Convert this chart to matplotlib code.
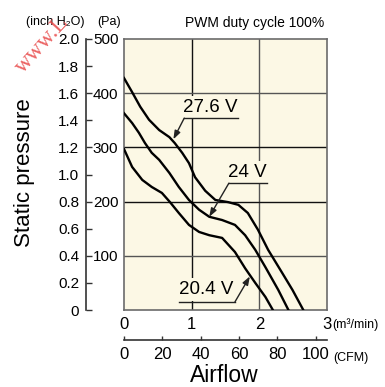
import matplotlib.pyplot as plt

# Werte (Q in m3/min, p in Pa)
q_276 = [0, 0.12, 0.24, 0.37, 0.52, 0.67, 0.75, 0.86, 0.96, 1.05, 1.20, 1.35, 1.54, 1.69, 1.83, 1.98, 2.13, 2.34, 2.49, 2.65]
p_276 = [428, 402, 375, 351, 332, 319, 308, 290, 271, 245, 220, 203, 199, 194, 179, 148, 111, 68, 37, 0]

q_240 = [0, 0.12, 0.22, 0.31, 0.41, 0.52, 0.67, 0.81, 0.96, 1.11, 1.26, 1.45, 1.64, 1.79, 1.94, 2.09, 2.28, 2.43]
p_240 = [363, 345, 327, 308, 290, 277, 253, 227, 203, 185, 172, 166, 157, 138, 111, 79, 37, 0]

q_204 = [0, 0.12, 0.27, 0.41, 0.56, 0.68, 0.81, 0.96, 1.11, 1.26, 1.45, 1.64, 1.79, 1.94, 2.09, 2.20]
p_204 = [297, 264, 240, 227, 216, 199, 179, 157, 144, 138, 133, 107, 77, 50, 24, 0]

pa_ticks = [100, 200, 300, 400, 500]
inch_ticks = [0, 0.2, 0.4, 0.6, 0.8, 1.0, 1.2, 1.4, 1.6, 1.8, 2.0]
m3_ticks = [0, 1, 2, 3]
cfm_ticks = [0, 20, 40, 60, 80, 100]

sans = ["Liberation Sans", "DejaVu Sans"]
bg = "#fcf8e5"

fig = plt.figure(figsize=(3.85, 3.87), dpi=100)
ax = fig.add_axes([124 / 385, 1 - 310 / 387, 203 / 385, 271 / 387])
ax.set_facecolor(bg)
ax.set_xlim(0, 3)
ax.set_ylim(0, 500)

# gitter
for x, c in [(1, "#111111"), (2, "#555555")]:
    ax.axvline(x, color=c, lw=1.0, zorder=1)
for y, c in [(100, "#555555"), (200, "#111111"), (300, "#111111"), (400, "#555555")]:
    ax.axhline(y, color=c, lw=1.0, zorder=1)

for s in ax.spines.values():
    s.set_color("#6b6b6b")
    s.set_linewidth(1.2)

# kennlinien
for q, p in [(q_276, p_276), (q_240, p_240), (q_204, p_204)]:
    ax.plot(q, p, color="black", lw=1.7, zorder=3, solid_joinstyle="round")

# achsen
ax.set_yticks(pa_ticks)
ax.set_yticklabels([str(v) for v in pa_ticks], family=sans, fontsize=11)
ax.set_xticks(m3_ticks)
ax.set_xticklabels([str(v) for v in m3_ticks], family=sans, fontsize=12)
ax.tick_params(axis="y", length=0, pad=4)
ax.tick_params(axis="x", length=0, pad=5)

sec_y = ax.secondary_yaxis(-0.187, functions=(lambda p: p / 250, lambda i: i * 250))
sec_y.set_yticks(inch_ticks)
sec_y.set_yticklabels(["0" if v == 0 else f"{v:.1f}" for v in inch_ticks], family=sans, fontsize=11)
sec_y.tick_params(direction="in", length=4, width=1, pad=5, color="#333333")
sec_y.spines["left"].set_linewidth(1.2)
sec_y.spines["left"].set_color("#333333")

sec_x = ax.secondary_xaxis(-0.111, functions=(lambda q: q * 35.315, lambda c: c / 35.315))
sec_x.set_xticks(cfm_ticks)
sec_x.set_xticklabels([str(v) for v in cfm_ticks], family=sans, fontsize=12)
sec_x.tick_params(direction="in", length=3, width=1, pad=5, color="#333333")
sec_x.spines["bottom"].set_linewidth(1.2)
sec_x.spines["bottom"].set_color("#333333")

# beschriftungen der kurven mit unterstrich und pfeil
labels = [
    ("27.6 V", 1.28, 358, 0.89, 1.69, 354, (0.73, 315)),
    ("24 V", 1.82, 238, 1.55, 2.12, 234, (1.26, 172)),
    ("20.4 V", 1.21, 22, 0.81, 1.64, 15, (1.86, 62)),
]
for txt, tx, ty, ux0, ux1, uy, tip in labels:
    ax.text(tx, ty, txt, ha="center", va="bottom", fontsize=13.5, family=sans, zorder=4,
            bbox=dict(facecolor=bg, edgecolor="none", pad=2))
    ax.plot([ux0, ux1], [uy, uy], color="#222222", lw=1.0, zorder=5)
    start = (ux0, uy) if tip[0] < ux0 + 0.3 else (ux1, uy)
    ax.annotate("", xy=tip, xytext=start, zorder=5,
                arrowprops=dict(arrowstyle="-|>,head_length=0.5,head_width=0.18", color="#222222", lw=1.0,
                                shrinkA=0, shrinkB=0))

fig.text(25 / 385, 1 - 173 / 387, "Static pressure", rotation=90, ha="center", va="center",
         fontsize=16, family=sans)
fig.text(224 / 385, 1 - 382 / 387, "Airflow", ha="center", va="baseline", fontsize=16.5, family=sans)
fig.text(26 / 385, 1 - 25 / 387, "(inch H\u2082O)", ha="left", va="baseline", fontsize=9, family=sans)
fig.text(97 / 385, 1 - 25 / 387, "(Pa)", ha="left", va="baseline", fontsize=9, family=sans)
fig.text(324 / 385, 1 - 27 / 387, "PWM duty cycle 100%", ha="right", va="baseline", fontsize=10, family=sans)
fig.text(332 / 385, 1 - 328 / 387, "(m\u00b3/min)", ha="left", va="baseline", fontsize=9, family=sans)
fig.text(333 / 385, 1 - 361 / 387, "(CFM)", ha="left", va="baseline", fontsize=9, family=sans)

# wasserzeichen
fig.text(42 / 385, 1 - 44 / 387, "www.L", rotation=48, ha="center", va="center", fontsize=17,
         family="Liberation Serif", color="#e84a4a", alpha=0.85)

plt.savefig("out.png", dpi=100, facecolor="white")
